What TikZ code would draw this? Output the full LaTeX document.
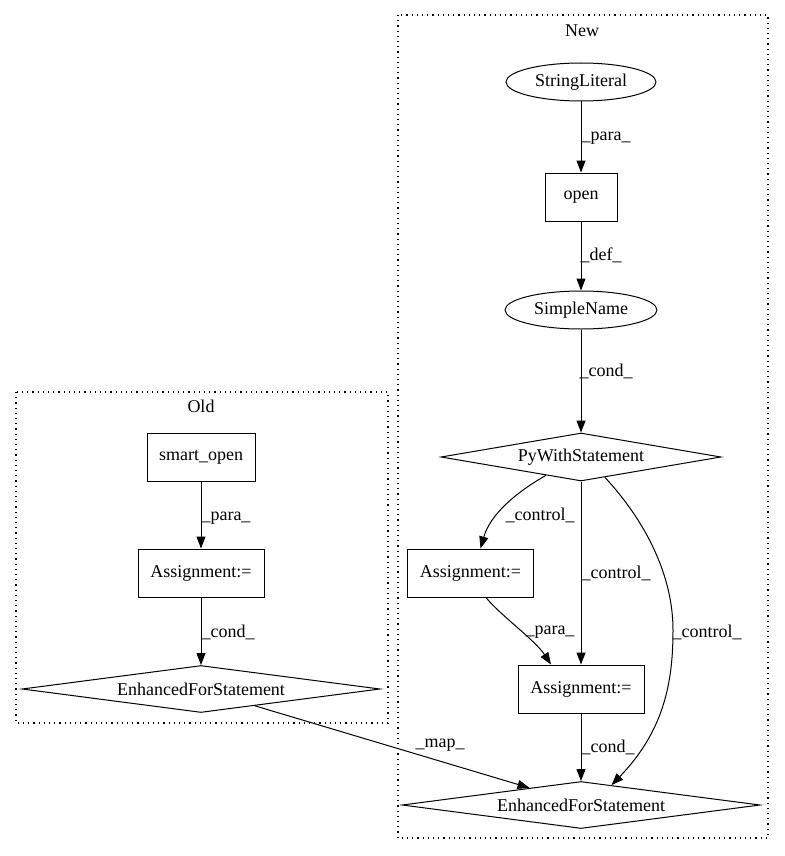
\documentclass[tikz,border=0pt]{standalone}
\usepackage{fontspec}
\setmainfont{Liberation Serif}
\usetikzlibrary{shapes.geometric,arrows.meta,calc}
\begin{document}
\begin{tikzpicture}[x=1pt,y=-1pt,
  every node/.style={font=\fontsize{18}{21}\selectfont},
  box/.style={draw,line width=1pt,rectangle,minimum height=48pt,inner sep=0pt},
  ell/.style={draw,line width=1pt,ellipse,minimum height=38pt,inner sep=0pt},
  dia/.style={draw,line width=1pt,diamond,inner sep=0pt,shape aspect=7},
  edge/.style={line width=1pt,-{Triangle[length=12pt,width=9pt]}},
  cluster/.style={draw,line width=1.2pt,dash pattern=on 1.2pt off 4pt},
  lbl/.style={inner sep=0pt}]
\useasboundingbox (0,0) rectangle (784,856);
% clusters
\draw[cluster] (398,15) rectangle (768,838);
\draw[cluster] (16,392) rectangle (388,723);
\node[lbl] (newlbl) at (582,31) {New};
\node[lbl] (oldlbl) at (201,406) {Old};
% New nodes
\node[ell,minimum width=150pt] (SL) at (581,82) {StringLiteral};
\node[box,minimum width=72pt] (open) at (581,197) {open};
\node[ell,minimum width=152pt] (SN) at (581,310) {SimpleName};
\node[dia,minimum width=280pt,minimum height=48pt] (PWS) at (581,457) {PyWithStatement};
\node[box,minimum width=126pt] (A1) at (470.5,573) {Assignment:=};
\node[box,minimum width=126pt] (A2) at (581,689) {Assignment:=};
\node[dia,minimum width=358pt,minimum height=47pt] (EFSN) at (581,805) {EnhancedForStatement};
% Old nodes
\node[box,minimum width=108pt] (so) at (201,457) {smart\_open};
\node[box,minimum width=126pt] (A0) at (201,573) {Assignment:=};
\node[dia,minimum width=358pt,minimum height=47pt] (EFSO) at (201,689) {EnhancedForStatement};
% edges New
\draw[edge] (SL) -- (open);
\node[lbl] (l1) at (606,138) {\_para\_};
\draw[edge] (open) -- (SN);
\node[lbl] (l2) at (601,255) {\_def\_};
\draw[edge] (SN) -- (PWS);
\node[lbl] (l3) at (606,371) {\_cond\_};
\draw[edge] ($(PWS.south)!0.25!(PWS.west)$) .. controls (515,493) and (490,515) .. ([xshift=10pt]A1.north);
\node[lbl] (l4) at (540,515) {\_control\_};
\draw[edge] (PWS.south) -- (A2.north);
\node[lbl] (l5) at (616,573) {\_control\_};
\draw[line width=1pt] ($(PWS.south)!0.17!(PWS.east)$) .. controls (640,515) and (673,570) .. (673,630) coordinate (rc);
\draw[edge] (rc) .. controls (673,680) and (665,730) .. ($(EFSN.north)!0.17!(EFSN.east)$);
\node[lbl] (l6) at (707,632) {\_control\_};
\draw[edge] ([xshift=15.5pt]A1.south) .. controls (500,615) and (535,640) .. ([xshift=-30pt]A2.north);
\node[lbl] (l7) at (550,632) {\_para\_};
\draw[edge] (A2) -- (EFSN);
\node[lbl] (l8) at (608,747) {\_cond\_};
% edges Old
\draw[edge] (so) -- (A0);
\node[lbl] (l9) at (226,518) {\_para\_};
\draw[edge] (A0) -- (EFSO);
\node[lbl] (l10) at (228,632) {\_cond\_};
% map
\draw[edge] ($(EFSO.south)!0.3!(EFSO.east)$) -- ($(EFSN.north)!0.287!(EFSN.west)$);
\node[lbl] (l11) at (440,745) {\_map\_};
\end{tikzpicture}
\end{document}
